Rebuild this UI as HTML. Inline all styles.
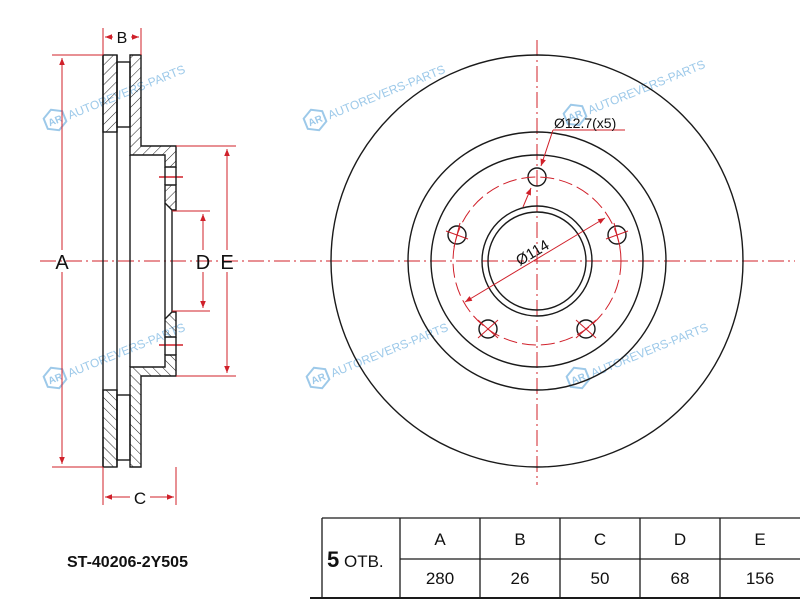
<!DOCTYPE html>
<html><head><meta charset="utf-8"><style>
html,body{margin:0;padding:0;background:#fff;}
svg{display:block;font-family:"Liberation Sans",Arial,sans-serif;}
</style></head><body>
<svg width="800" height="600" viewBox="0 0 800 600" xmlns="http://www.w3.org/2000/svg">
<defs>
<pattern id="h" patternUnits="userSpaceOnUse" width="7" height="7" patternTransform="rotate(45)">
<line x1="0" y1="0" x2="0" y2="7" stroke="#222" stroke-width="1"/>
</pattern>
<marker id="ar" viewBox="0 0 10 10" refX="10" refY="5" markerWidth="7" markerHeight="7" orient="auto-start-reverse">
<path d="M0,1 L10,5 L0,9 z" fill="#d0202a"/>
</marker>
<g id="wm">
<polygon points="0,-11 10,-5.5 10,5.5 0,11 -10,5.5 -10,-5.5" fill="none" stroke="#8cc0e6" stroke-width="2"/>
<text x="0" y="4" font-size="10" fill="#8cc0e6" text-anchor="middle" font-weight="bold">AR</text>
<text x="14" y="5" font-size="12" fill="#8cc0e6">AUTOREVERS-PARTS</text>
</g>
</defs>
<rect width="800" height="600" fill="#fff"/>

<g opacity="0.85">
<use href="#wm" transform="translate(55,120) rotate(-22)"/>
<use href="#wm" transform="translate(315,120) rotate(-22)"/>
<use href="#wm" transform="translate(575,115) rotate(-22)"/>
<use href="#wm" transform="translate(55,378) rotate(-22)"/>
<use href="#wm" transform="translate(318,378) rotate(-22)"/>
<use href="#wm" transform="translate(578,378) rotate(-22)"/>
</g>

<g stroke="#d0202a" stroke-width="1" stroke-dasharray="16,4,2,4" fill="none">
<line x1="40" y1="261" x2="795" y2="261"/>
<line x1="537" y1="40" x2="537" y2="485"/>
</g>

<g stroke="#1a1a1a" stroke-width="1.4" fill="none">
<g id="half">
<rect x="103" y="55" width="14" height="77" fill="url(#h)"/>
<rect x="117" y="62" width="13" height="65"/>
<path d="M130,55 H141 V146 H176 V167 H165 V155 H130 Z" fill="url(#h)"/>
<path d="M165,185 H176 V210 H172 L165,203 Z" fill="url(#h)"/>
<line x1="159" y1="177" x2="183" y2="177" stroke="#d0202a"/>
<line x1="165" y1="167" x2="165" y2="185"/>
<line x1="176" y1="167" x2="176" y2="185"/>
</g>
<use href="#half" transform="translate(0,522) scale(1,-1)"/>
<line x1="103" y1="55" x2="103" y2="467"/>
<line x1="117" y1="55" x2="117" y2="467"/>
<line x1="130" y1="155" x2="130" y2="367"/>
<line x1="165" y1="203" x2="165" y2="319"/>
<line x1="172" y1="210" x2="172" y2="312"/>
</g>

<g stroke="#d0202a" stroke-width="1" fill="none">
<line x1="52" y1="55" x2="103" y2="55"/>
<line x1="52" y1="467" x2="103" y2="467"/>
<line x1="62" y1="250" x2="62" y2="58" marker-end="url(#ar)"/>
<line x1="62" y1="272" x2="62" y2="464" marker-end="url(#ar)"/>
<line x1="176" y1="146" x2="236" y2="146"/>
<line x1="176" y1="376" x2="236" y2="376"/>
<line x1="227" y1="250" x2="227" y2="149" marker-end="url(#ar)"/>
<line x1="227" y1="272" x2="227" y2="373" marker-end="url(#ar)"/>
<line x1="172" y1="211" x2="210" y2="211"/>
<line x1="172" y1="311" x2="210" y2="311"/>
<line x1="203" y1="250" x2="203" y2="214" marker-end="url(#ar)"/>
<line x1="203" y1="272" x2="203" y2="308" marker-end="url(#ar)"/>
<line x1="103" y1="28" x2="103" y2="55"/>
<line x1="141" y1="28" x2="141" y2="55"/>
<line x1="113" y1="37" x2="105" y2="37" marker-end="url(#ar)"/>
<line x1="131" y1="37" x2="139" y2="37" marker-end="url(#ar)"/>
<line x1="103" y1="467" x2="103" y2="505"/>
<line x1="176" y1="467" x2="176" y2="505"/>
<line x1="130" y1="497" x2="105" y2="497" marker-end="url(#ar)"/>
<line x1="150" y1="497" x2="174" y2="497" marker-end="url(#ar)"/>
</g>
<g fill="#111" text-anchor="middle">
<text x="62" y="269" font-size="20">A</text>
<text x="203" y="269" font-size="20">D</text>
<text x="227" y="269" font-size="20">E</text>
<text x="122" y="43" font-size="16">B</text>
<text x="140" y="504" font-size="17">C</text>
</g>

<g stroke="#1a1a1a" stroke-width="1.4" fill="none">
<circle cx="537" cy="261" r="206"/>
<circle cx="537" cy="261" r="129"/>
<circle cx="537" cy="261" r="106"/>
<circle cx="537" cy="261" r="55"/>
<circle cx="537" cy="261" r="49"/>
<circle cx="537" cy="177" r="9"/>
<circle cx="457" cy="235" r="9"/>
<circle cx="617" cy="235" r="9"/>
<circle cx="488" cy="329" r="9"/>
<circle cx="586" cy="329" r="9"/>
</g>
<g stroke="#d0202a" stroke-width="1" fill="none">
<circle cx="537" cy="261" r="84" stroke-dasharray="14,5"/>
<line x1="446" y1="231" x2="468" y2="239"/><line x1="460" y1="223" x2="454" y2="247"/>
<line x1="606" y1="239" x2="628" y2="231"/><line x1="614" y1="223" x2="620" y2="247"/>
<line x1="478" y1="320" x2="498" y2="338"/><line x1="498" y1="320" x2="478" y2="338"/>
<line x1="576" y1="320" x2="596" y2="338"/><line x1="596" y1="320" x2="576" y2="338"/>
<line x1="465" y1="302" x2="605" y2="218" marker-start="url(#ar)" marker-end="url(#ar)"/>
<line x1="553" y1="130" x2="625" y2="130"/>
<line x1="553" y1="130" x2="541" y2="166" marker-end="url(#ar)"/>
<line x1="523" y1="207" x2="531" y2="188" marker-end="url(#ar)"/>
</g>
<text x="554" y="128" font-size="14" fill="#111">Ø12.7(x5)</text>
<text x="0" y="0" font-size="15" fill="#111" text-anchor="middle" transform="translate(535,257) rotate(-31)">Ø114</text>

<g stroke="#1a1a1a" stroke-width="1.3" fill="none">
<line x1="322" y1="518" x2="800" y2="518"/>
<line x1="322" y1="518" x2="322" y2="598"/>
<line x1="400" y1="518" x2="400" y2="598"/>
<line x1="480" y1="518" x2="480" y2="598"/>
<line x1="560" y1="518" x2="560" y2="598"/>
<line x1="640" y1="518" x2="640" y2="598"/>
<line x1="720" y1="518" x2="720" y2="598"/>
<line x1="400" y1="559" x2="800" y2="559"/>
<line x1="310" y1="598" x2="800" y2="598" stroke-width="2"/>
</g>
<g font-size="17" fill="#111" text-anchor="middle">
<text x="440" y="545">A</text><text x="520" y="545">B</text><text x="600" y="545">C</text><text x="680" y="545">D</text><text x="760" y="545">E</text>
<text x="440" y="584">280</text><text x="520" y="584">26</text><text x="600" y="584">50</text><text x="680" y="584">68</text><text x="760" y="584">156</text>
</g>
<text x="327" y="567" font-size="17" fill="#111"><tspan font-size="22" font-weight="bold">5</tspan> ОТВ.</text>
<text x="67" y="567" font-size="16" font-weight="bold" fill="#111">ST-40206-2Y505</text>
</svg>
</body></html>
